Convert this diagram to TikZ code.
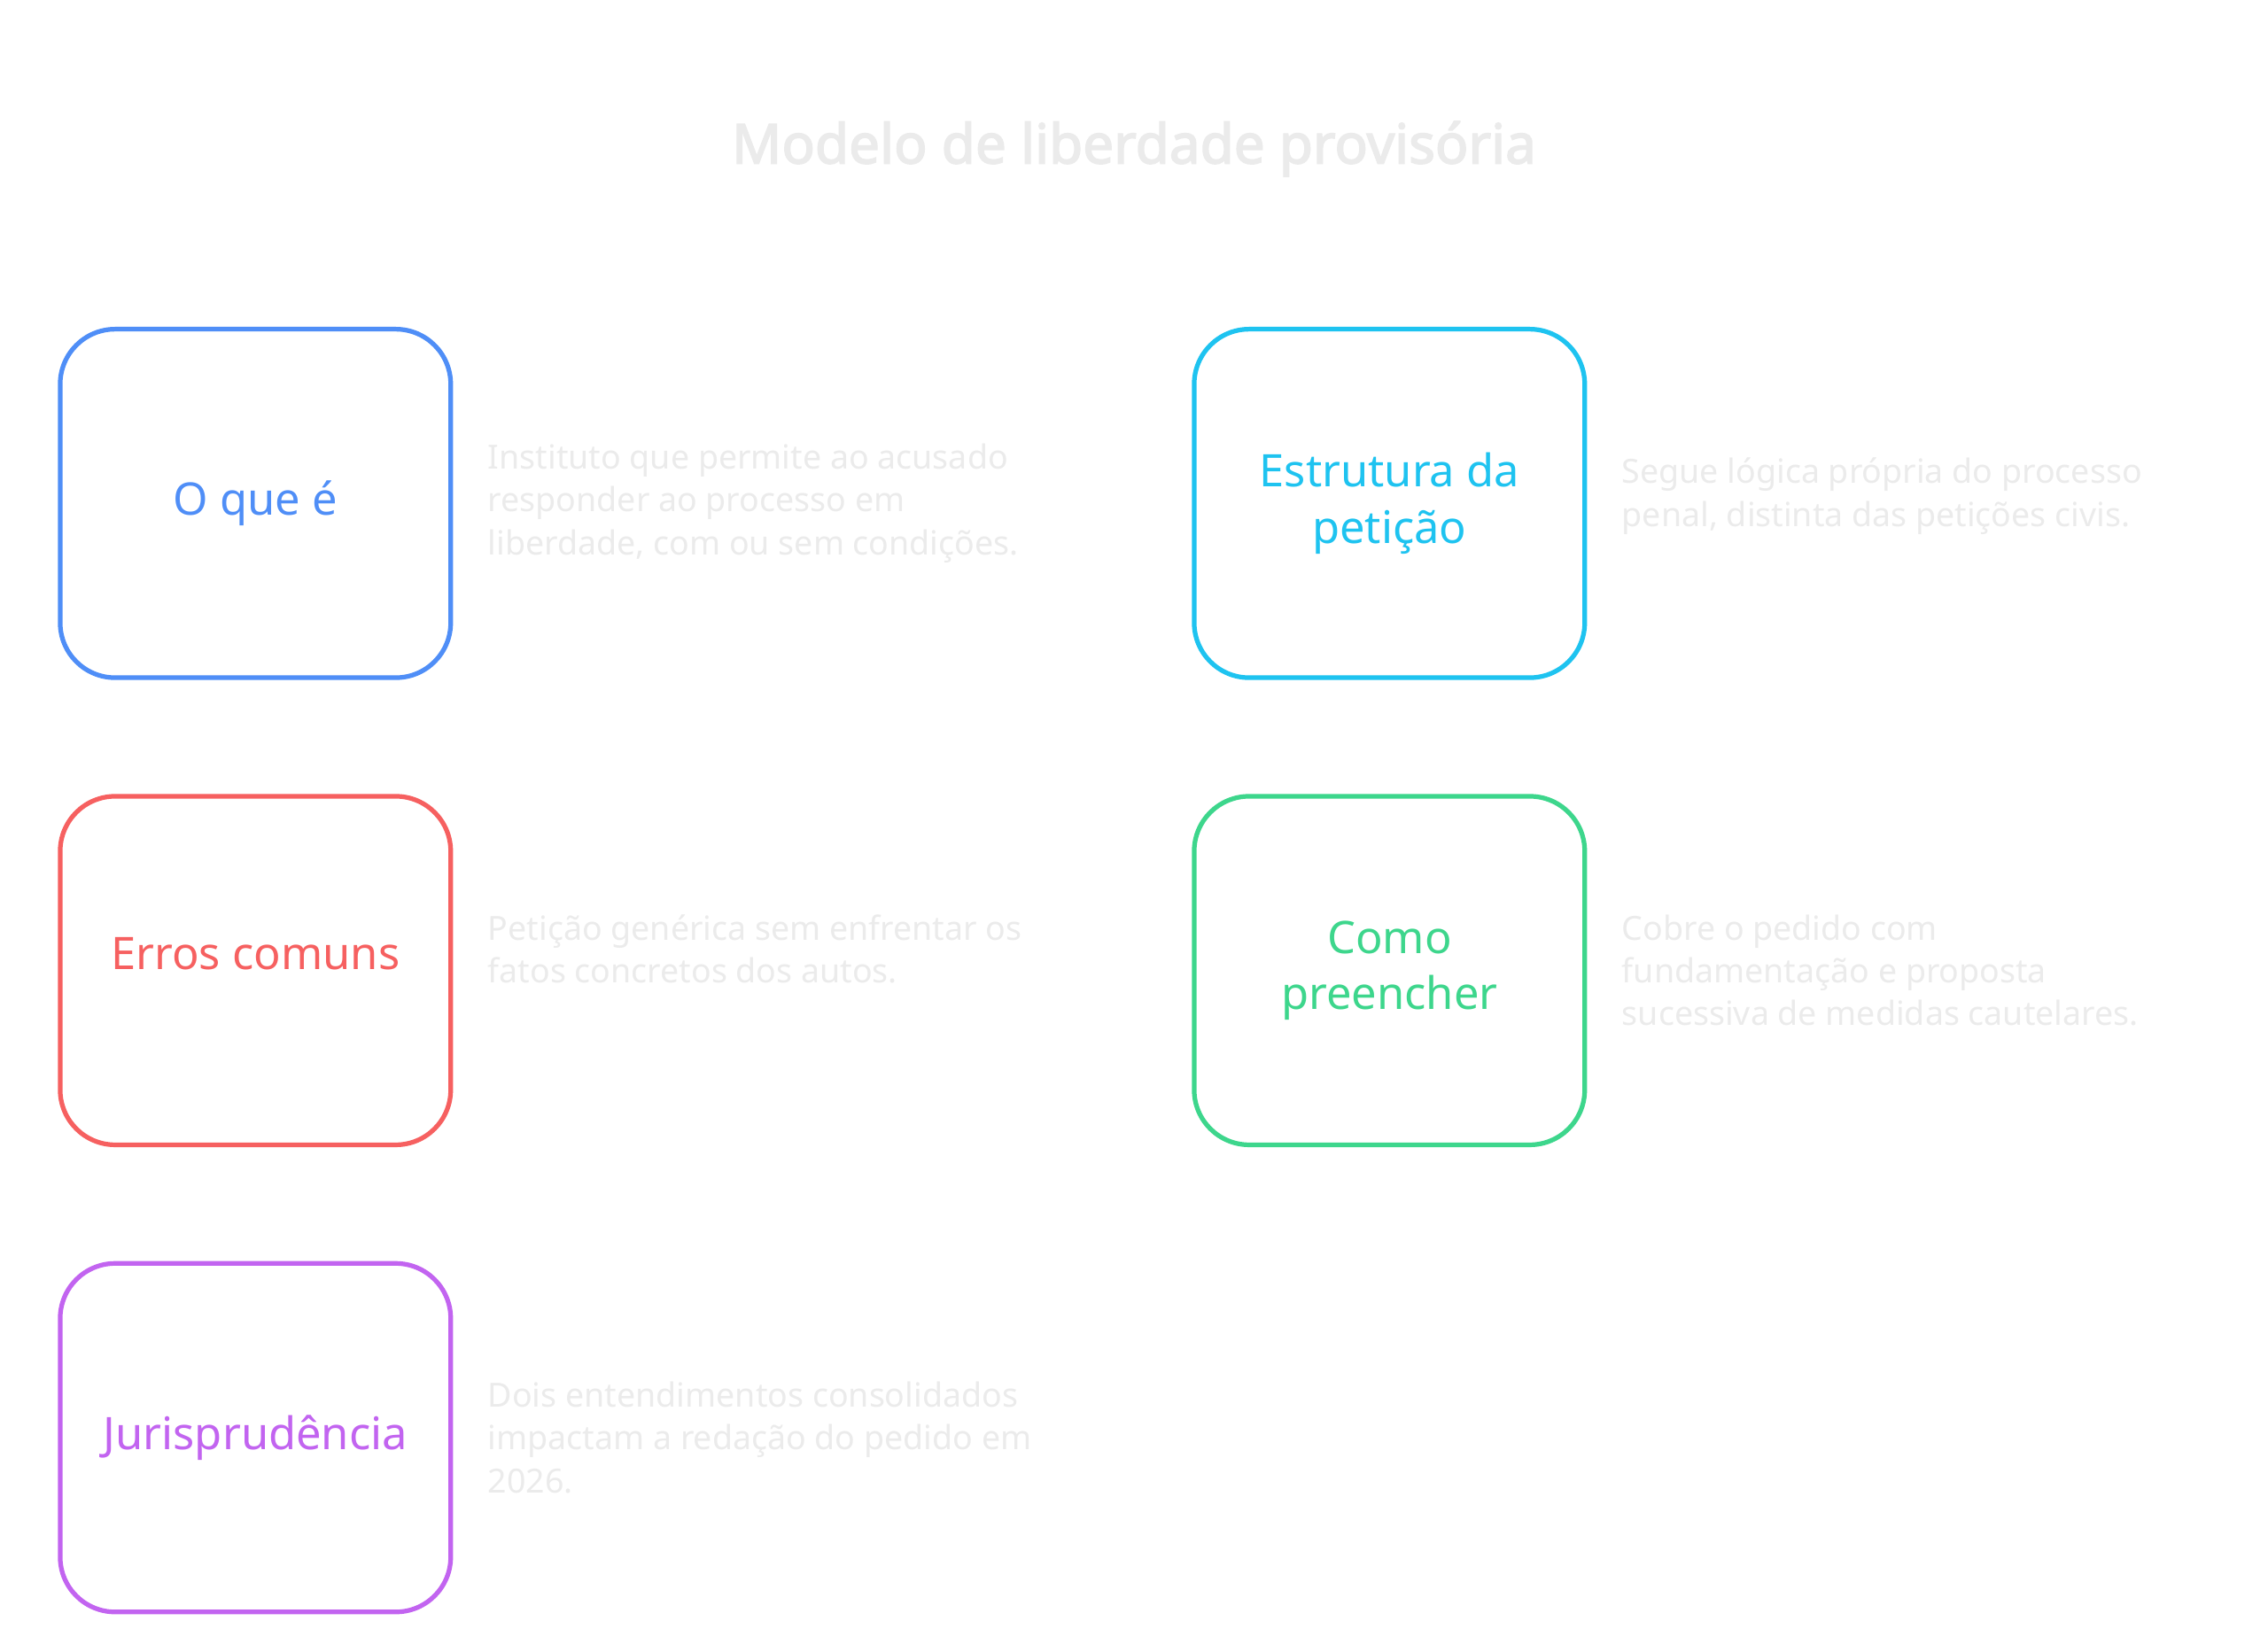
\documentclass[tikz,border=0pt]{standalone}
\usepackage{fontspec}
\setmainfont{Noto Sans}
\newfontfamily\titlefont{Noto Sans}[FakeBold=2.5]
\definecolor{cblue}{HTML}{4F8EF7}
\definecolor{ccyan}{HTML}{1EC3F0}
\definecolor{cred}{HTML}{F66060}
\definecolor{cgreen}{HTML}{3DD68C}
\definecolor{cpurple}{HTML}{C264F0}
\definecolor{ctext}{HTML}{EBEBEB}
\begin{document}
\begin{tikzpicture}[x=0.5pt,y=-0.5pt,
  box/.style={draw=#1,line width=1.6pt,rounded corners=19pt,minimum width=135pt,minimum height=120.5pt,text=#1,align=center,font=\fontsize{15.5pt}{19.5pt}\selectfont,anchor=north west,inner sep=0pt},
  desc/.style={text=ctext,align=left,anchor=west,font=\fontsize{11.5pt}{14.8pt}\selectfont,inner sep=0pt}]
\useasboundingbox[fill=white] (0,0) rectangle (1568,1142);
\node[text=ctext,font=\titlefont\fontsize{19pt}{22pt}\selectfont] (title) at (784,103) {Modelo de liberdade provisória};
\node[box=cblue] (b1) at (40,226) {O que é};
\node[box=ccyan] (b2) at (824,226) {Estrutura da\\petição};
\node[box=cred] (b3) at (40,549) {\raisebox{12pt}{Erros comuns}};
\node[box=cgreen] (b4) at (824,549) {Como\\preencher};
\node[box=cpurple] (b5) at (40,872) {Jurisprudência};
\node[desc] (d1) at (337,348) {Instituto que permite ao acusado\\responder ao processo em\\liberdade, com ou sem condições.};
\node[desc] (d2) at (1121,343) {Segue lógica própria do processo\\penal, distinta das petições civis.};
\node[desc] (d3) at (337,656) {Petição genérica sem enfrentar os\\fatos concretos dos autos.};
\node[desc] (d4) at (1121,671) {Cobre o pedido com\\fundamentação e proposta\\sucessiva de medidas cautelares.};
\node[desc] (d5) at (337,994) {Dois entendimentos consolidados\\impactam a redação do pedido em\\2026.};
\end{tikzpicture}
\end{document}
